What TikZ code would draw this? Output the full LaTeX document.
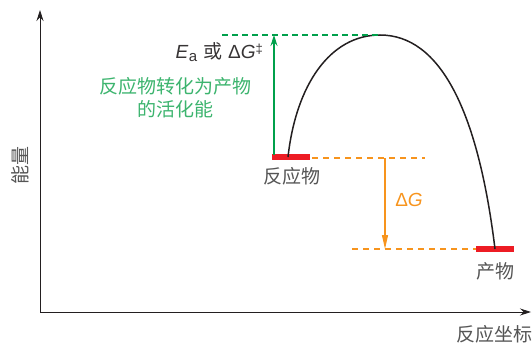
\documentclass[tikz,border=0pt]{standalone}
\usepackage{fontspec}
\setmainfont{Liberation Sans}
\newfontfamily\cjk{Noto Sans CJK SC}
\usetikzlibrary{arrows.meta}
\definecolor{axisgray}{RGB}{35,31,32}
\definecolor{txtgray}{RGB}{85,85,85}
\definecolor{eagray}{RGB}{55,52,53}
\definecolor{arrgreen}{RGB}{0,160,75}
\definecolor{txtgreen}{RGB}{60,180,110}
\definecolor{orng}{RGB}{247,148,29}
\definecolor{barred}{RGB}{237,28,36}
\tikzset{
  axis/.style={draw=axisgray, line width=0.9pt, -{Stealth[length=11pt,width=7pt]}},
  lvlbar/.style={fill=barred, draw=none, minimum width=38pt, minimum height=6.5pt, inner sep=0pt},
  lbl/.style={font=\cjk\fontsize{19}{21}\selectfont, text=txtgray, inner sep=0pt},
  gdash/.style={draw=arrgreen, line width=1.1pt, dash pattern=on 6pt off 4pt},
  odash/.style={draw=orng, line width=1.1pt, dash pattern=on 6pt off 5pt},
}
\begin{document}
\begin{tikzpicture}[x=1pt,y=-1pt]
\useasboundingbox (0,0) rectangle (532,347);
% axes
\coordinate (O) at (40,312);
\coordinate (ytop) at (40,10);
\coordinate (xend) at (531,312);
\draw[axis] (O) -- (ytop);
\draw[axis] (O) -- (xend);
\node[lbl, rotate=90] (ylab) at (20,166) {能量};
\node[lbl] (xlab) at (494,334) {反应坐标};
% levels
\node[lvlbar] (react) at (291,157) {};
\node[lvlbar] (prod) at (495,249) {};
\node[lbl] (reactlab) at (292,176) {反应物};
\node[lbl] (prodlab) at (495,271) {产物};
% curve
\coordinate (cs) at (288,157);
\coordinate (peak) at (380,35);
\coordinate (ce) at (495,249);
\draw[axisgray, line width=1.5pt] (cs) .. controls (296,85) and (330,35) .. (peak)
  .. controls (440,35) and (478,110) .. (ce);
% green activation energy
\coordinate (gl) at (222,35);
\draw[gdash] (gl) -- (peak);
\coordinate (gb) at (274,155);
\coordinate (gt) at (274,35);
\draw[draw=arrgreen, line width=1.1pt, -{Stealth[length=11pt,width=7pt]}] (gb) -- (gt);
\node[inner sep=0pt, anchor=east, text=eagray, font=\fontsize{19}{21}\selectfont] (ea) at (263,52)
  {\textit{E}\kern0.3pt\raisebox{-3pt}{\fontsize{15}{16}\selectfont a}\hspace{6pt}{\cjk 或}\hspace{6pt}Δ\textit{G}\raisebox{5pt}{\fontsize{13}{14}\selectfont ‡}};
\node[inner sep=0pt, align=center, text=txtgreen, font=\cjk\fontsize{19}{23}\selectfont] (desc) at (175,98)
  {反应物转化为产物\\的活化能};
% orange free energy
\coordinate (o1a) at (312,158);
\coordinate (o1b) at (425,158);
\draw[odash] (o1a) -- (o1b);
\coordinate (o2a) at (352,249);
\coordinate (o2b) at (476,249);
\draw[odash] (o2a) -- (o2b);
\coordinate (oa) at (385,158);
\coordinate (ob) at (385,249);
\draw[draw=orng, line width=1.1pt, -{Stealth[length=14pt,width=6pt,inset=0pt]}] (oa) -- (ob);
\node[inner sep=0pt, text=orng, font=\fontsize{19}{21}\selectfont] (dg) at (409,200) {Δ\textit{G}};
\end{tikzpicture}
\end{document}
